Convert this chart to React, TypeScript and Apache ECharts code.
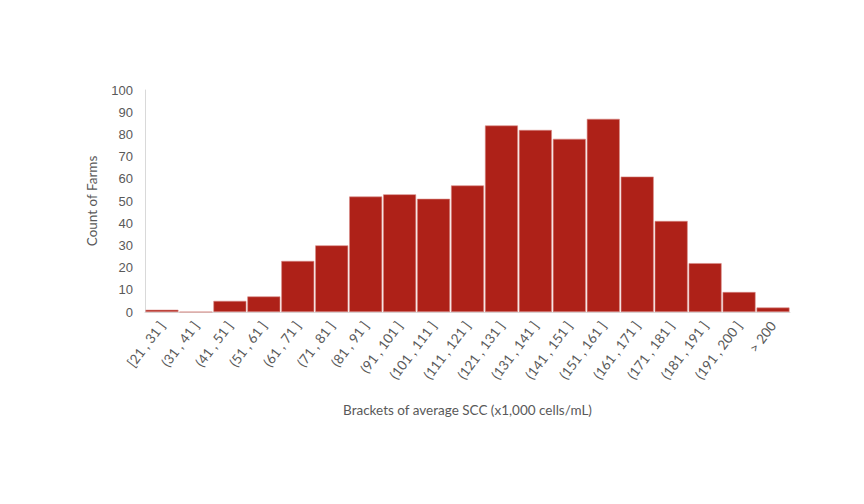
import React, { useEffect, useRef } from "react";
import * as echarts from "echarts";

const categories = [
  "[21 , 31 ]", "(31 , 41 ]", "(41 , 51 ]", "(51 , 61 ]", "(61 , 71 ]",
  "(71 , 81 ]", "(81 , 91 ]", "(91 , 101 ]", "(101 , 111 ]", "(111 , 121 ]",
  "(121 , 131 ]", "(131 , 141 ]", "(141 , 151 ]", "(151 , 161 ]", "(161 , 171 ]",
  "(171 , 181 ]", "(181 , 191 ]", "(191 , 200 ]", "> 200",
];
const counts = [1, 0, 5, 7, 23, 30, 52, 53, 51, 57, 84, 82, 78, 87, 61, 41, 22, 9, 2];
const yTicks = { min: 0, max: 100, interval: 10 };

export default function App() {
  const ref = useRef<HTMLDivElement>(null);
  useEffect(() => {
    if (!ref.current) return;
    const chart = echarts.init(ref.current, undefined, { renderer: "svg" });
    chart.setOption({
      animation: false,
      backgroundColor: "#ffffff",
      grid: { left: 145, right: 74, top: 90, bottom: 192, containLabel: false },
      xAxis: {
        type: "category",
        data: categories,
        name: "Brackets of average SCC (x1,000 cells/mL)",
        nameLocation: "middle",
        nameGap: 91,
        nameTextStyle: { fontFamily: "Lato", fontSize: 13.5, color: "#595959" },
        axisLine: { lineStyle: { color: "#d9d9d9", width: 1 } },
        axisTick: { show: false },
        axisLabel: {
          rotate: 53,
          interval: 0,
          margin: 11,
          fontFamily: "Lato",
          fontSize: 13.5,
          color: "#595959",
        },
      },
      yAxis: {
        type: "value",
        min: yTicks.min,
        max: yTicks.max,
        interval: yTicks.interval,
        name: "Count of Farms",
        nameLocation: "middle",
        nameGap: 46,
        nameRotate: 90,
        nameTextStyle: { fontFamily: "Lato", fontSize: 13.5, color: "#595959" },
        axisLine: { show: true, lineStyle: { color: "#d9d9d9", width: 1 } },
        axisTick: { show: false },
        splitLine: { show: false },
        axisLabel: {
          margin: 12,
          fontFamily: "Liberation Sans",
          fontSize: 13,
          color: "#595959",
        },
      },
      series: [
        {
          type: "bar",
          data: counts,
          barCategoryGap: "3%",
          itemStyle: {
            color: "#ae2118",
            borderColor: "#d98a85",
            borderWidth: 0.6,
          },
        },
      ],
    });
    return () => chart.dispose();
  }, []);
  return (
    <div
      ref={ref}
      style={{ position: "fixed", left: 0, top: 0, width: 864, height: 504 }}
    />
  );
}
